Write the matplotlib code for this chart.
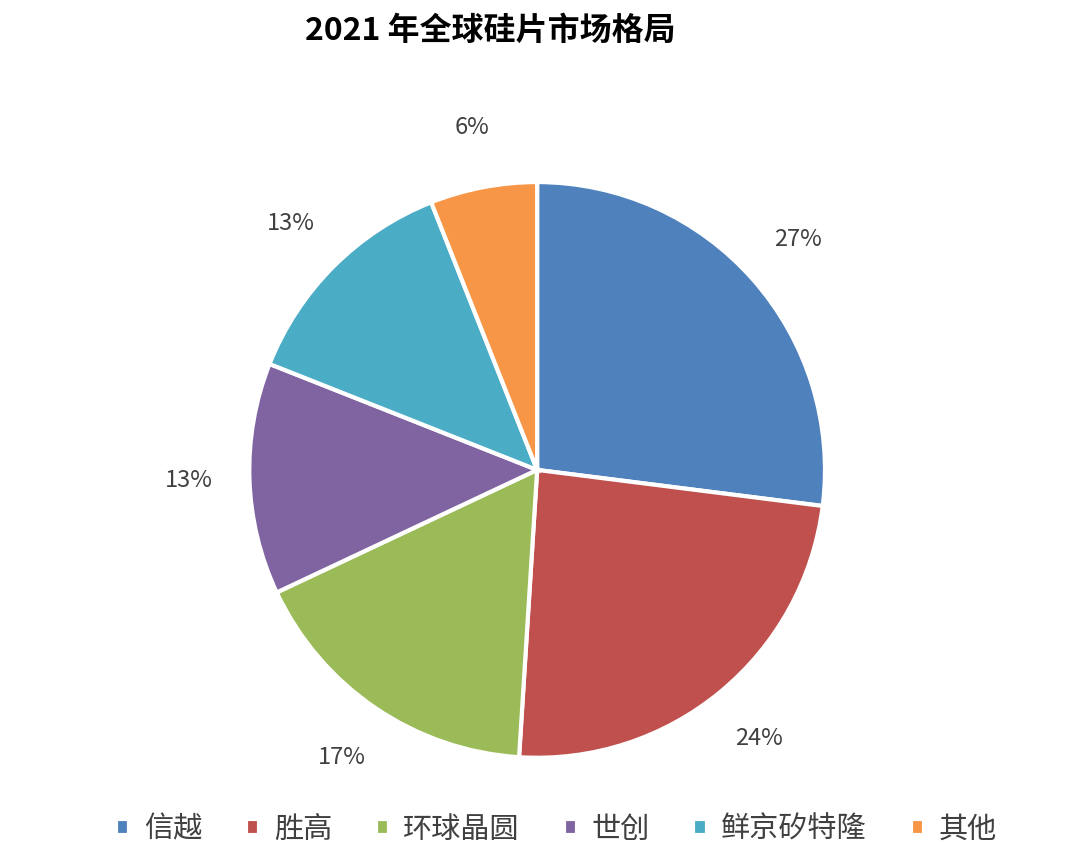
import matplotlib
matplotlib.use("Agg")
import matplotlib.pyplot as plt

plt.rcParams['font.family'] = ['Noto Sans CJK SC', 'DejaVu Sans']

companies = ['信越', '胜高', '环球晶圆', '世创', '鲜京矽特隆', '其他']
shares = [27, 24, 17, 13, 13, 6]
colors = ['#4F81BD', '#C0504D', '#9BBB59', '#8064A2', '#4BACC6', '#F79646']

fig = plt.figure(figsize=(10.7, 8.67), dpi=100)
ax = fig.add_axes([0.233, 0.126, 0.538, 0.664])
wedges, texts, autotexts = ax.pie(
    shares, colors=colors, startangle=90, counterclock=False,
    autopct='%d%%', pctdistance=1.21,
    wedgeprops=dict(edgecolor='white', linewidth=3),
    textprops=dict(fontsize=17, color='#404040'))
ax.set_xlim(-1, 1)
ax.set_ylim(-1, 1)
ax.set_aspect('equal')

fig.text(0.458, 0.965, '2021 年全球硅片市场格局', ha='center', va='center',
         fontsize=23, fontweight='bold', color='black')

fig.legend(wedges, companies, loc='center', bbox_to_anchor=(0.52, 0.043),
           ncol=6, frameon=False, fontsize=21, handlelength=0.45, handleheight=0.45,
           handletextpad=0.5, columnspacing=1.5, labelcolor='#404040')

fig.savefig('out.png', dpi=100)
